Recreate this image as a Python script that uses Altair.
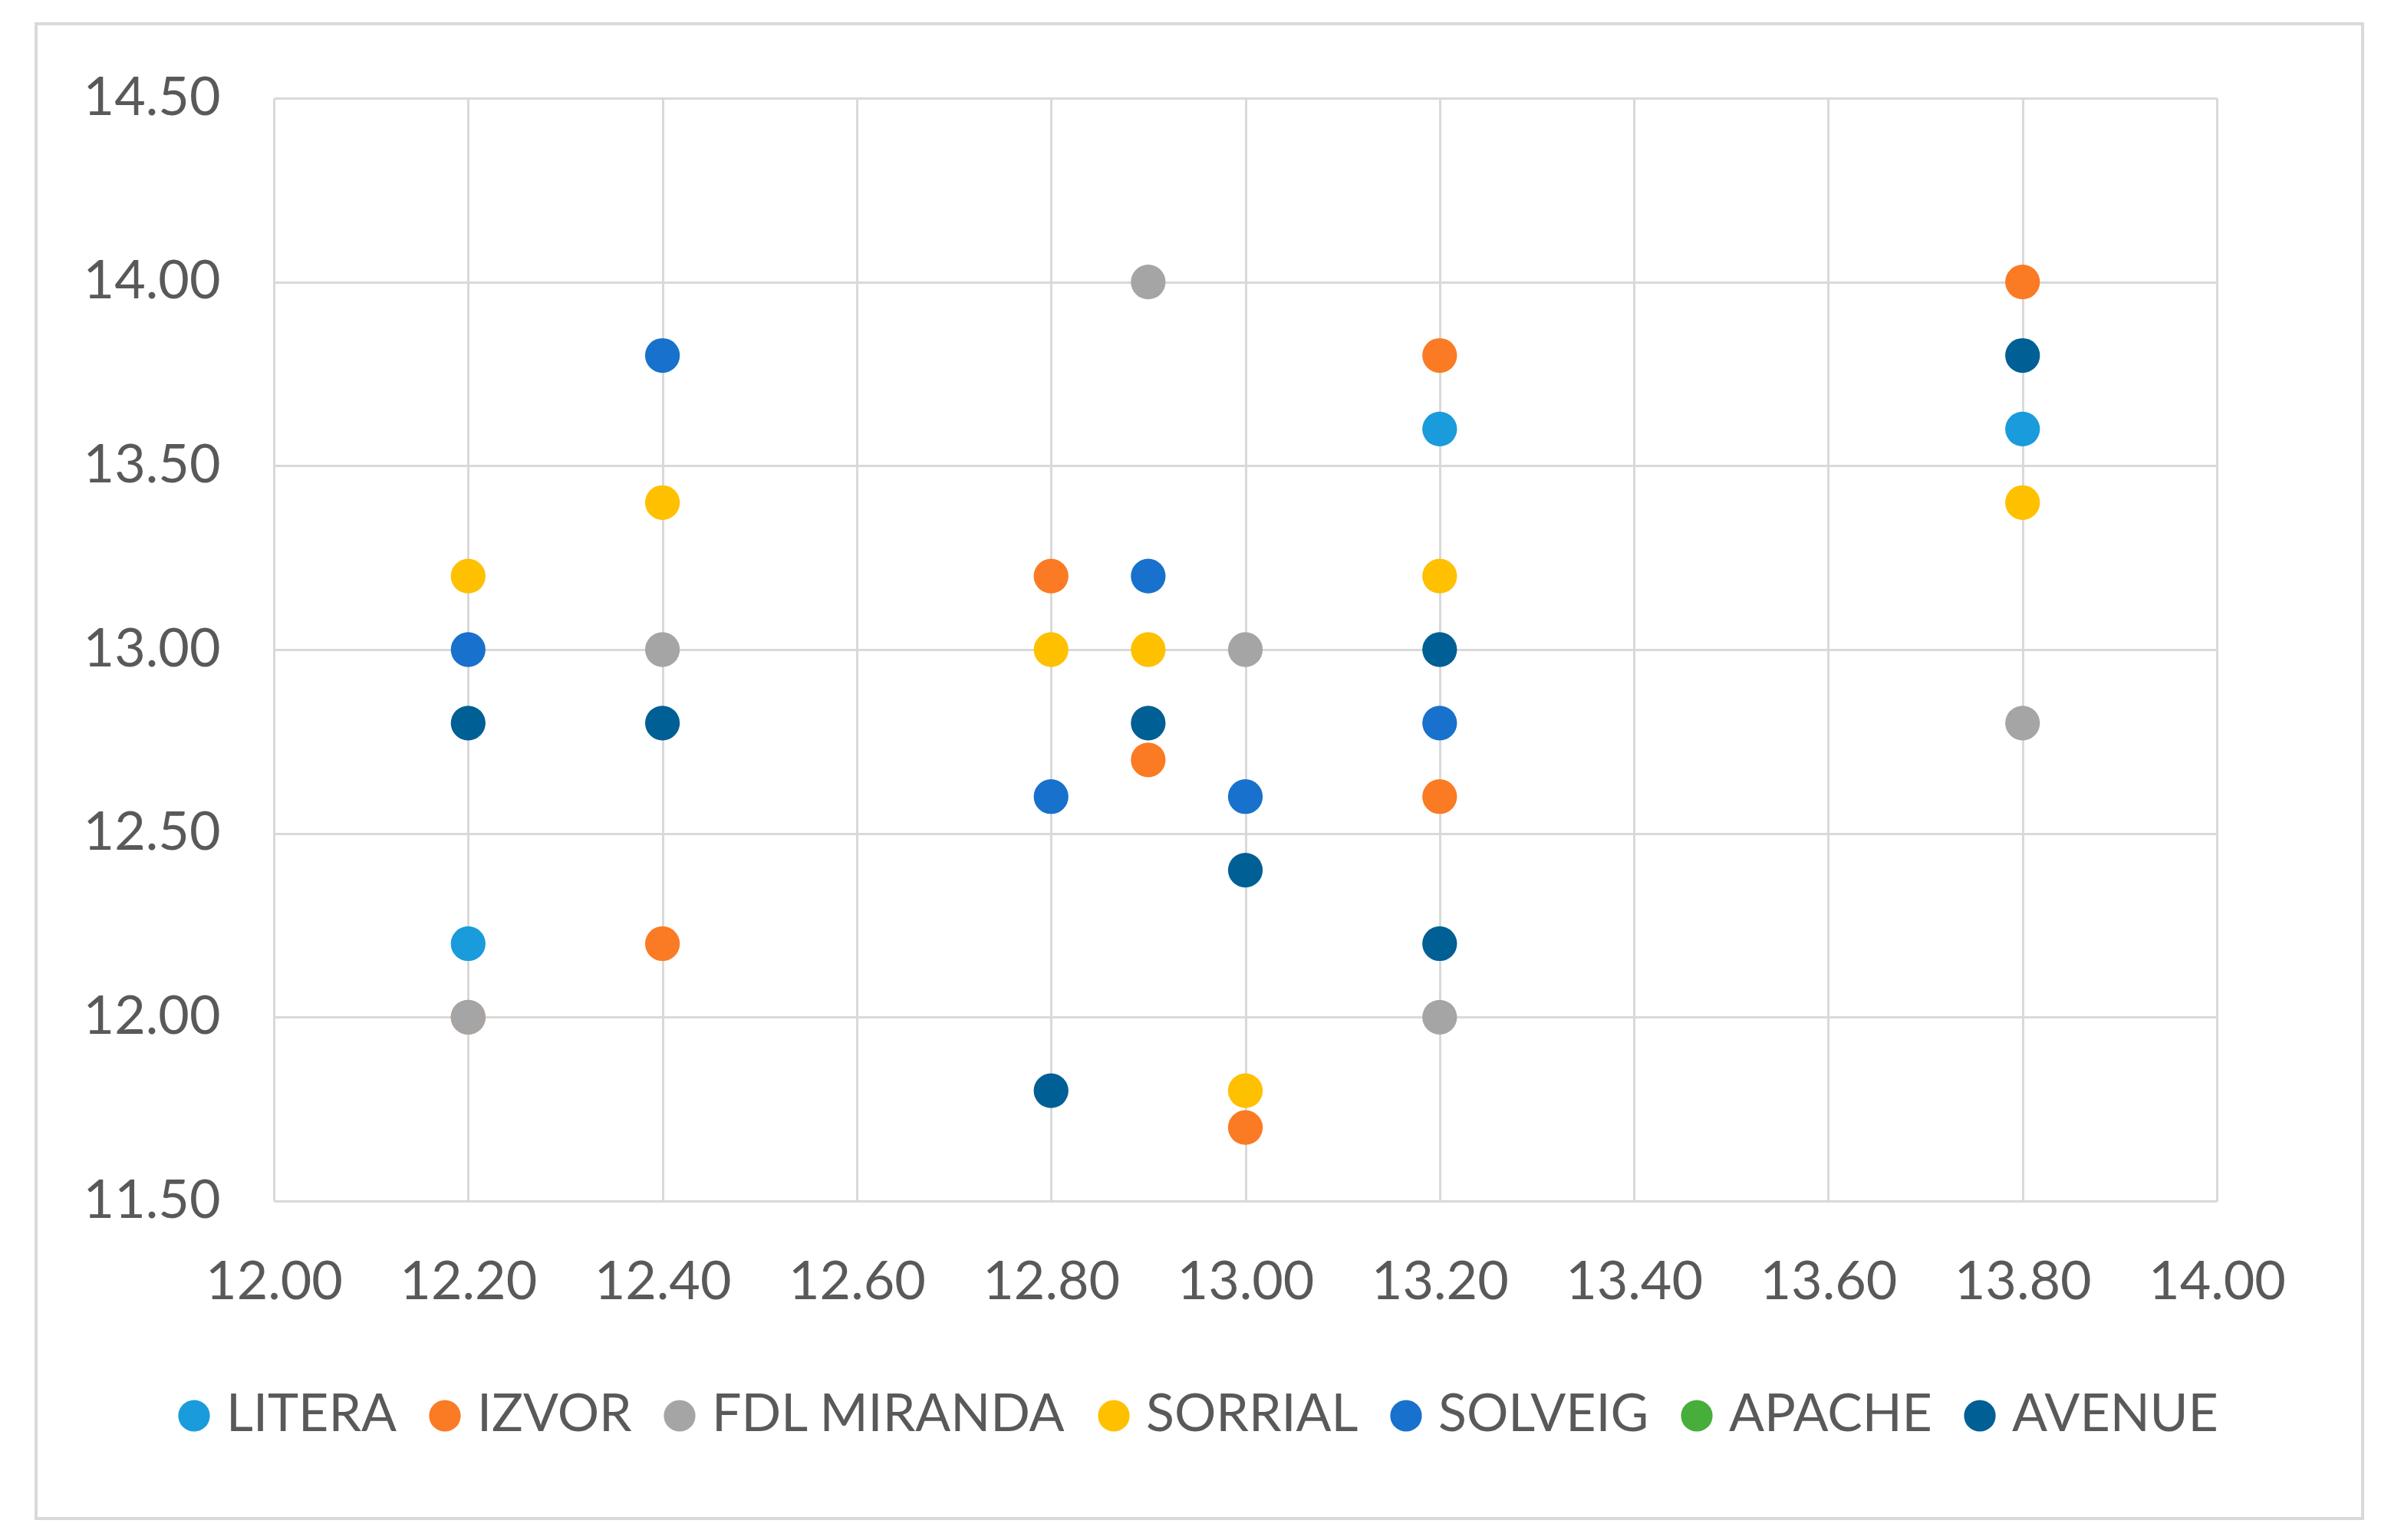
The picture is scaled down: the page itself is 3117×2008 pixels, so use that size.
import altair as alt
import pandas as pd

# ---- data ----
series_names = ["LITERA", "IZVOR", "FDL MIRANDA", "SORRIAL", "SOLVEIG", "APACHE", "AVENUE"]
series_colors = ["#1a9bdb", "#fb7a24", "#a5a5a5", "#ffc000", "#1871cc", "#47ad3b", "#005f95"]

litera_x = [12.2, 13.2, 13.8]
litera_y = [12.2, 13.6, 13.6]

izvor_x = [12.2, 12.4, 12.8, 12.9, 13.0, 13.2, 13.2, 13.8]
izvor_y = [12.0, 12.2, 13.2, 12.7, 11.7, 13.8, 12.6, 14.0]

fdl_x = [12.2, 12.4, 12.9, 13.0, 13.2, 13.8]
fdl_y = [12.0, 13.0, 14.0, 13.0, 12.0, 12.8]

sorrial_x = [12.2, 12.4, 12.8, 12.9, 13.0, 13.2, 13.8]
sorrial_y = [13.2, 13.4, 13.0, 13.0, 11.8, 13.2, 13.4]

solveig_x = [12.2, 12.4, 12.8, 12.9, 13.0, 13.2]
solveig_y = [13.0, 13.8, 12.6, 13.2, 12.6, 12.8]

apache_x = []
apache_y = []

avenue_x = [12.2, 12.4, 12.8, 12.9, 13.0, 13.2, 13.2, 13.8]
avenue_y = [12.8, 12.8, 11.8, 12.8, 12.4, 13.0, 12.2, 13.8]

x_ticks = [12.0, 12.2, 12.4, 12.6, 12.8, 13.0, 13.2, 13.4, 13.6, 13.8, 14.0]
y_ticks = [11.5, 12.0, 12.5, 13.0, 13.5, 14.0, 14.5]

all_x = [litera_x, izvor_x, fdl_x, sorrial_x, solveig_x, apache_x, avenue_x]
all_y = [litera_y, izvor_y, fdl_y, sorrial_y, solveig_y, apache_y, avenue_y]

rows = []
for name, xs, ys in zip(series_names, all_x, all_y):
    for xv, yv in zip(xs, ys):
        rows.append({"series": name, "x": xv, "y": yv})
df = pd.DataFrame(rows)

W, H = 2533, 1438
FONT = "Lato"
TXT = "#595959"
GRID = "#d9d9d9"

points = alt.Chart(df).mark_circle(size=2050, opacity=1).encode(
    x=alt.X("x:Q",
            scale=alt.Scale(domain=[12, 14], nice=False, zero=False),
            axis=alt.Axis(values=x_ticks, format=".2f", title=None, ticks=False, domain=False,
                          grid=True, gridColor=GRID, gridWidth=3,
                          labelFont=FONT, labelFontSize=70, labelColor=TXT, labelPadding=72,
                          labelFlush=False)),
    y=alt.Y("y:Q",
            scale=alt.Scale(domain=[11.5, 14.5], nice=False, zero=False),
            axis=alt.Axis(values=y_ticks, format=".2f", title=None, ticks=False, domain=False,
                          grid=True, gridColor=GRID, gridWidth=3,
                          labelFont=FONT, labelFontSize=70, labelColor=TXT, labelPadding=70,
                          labelFlush=False)),
    color=alt.Color("series:N",
                    scale=alt.Scale(domain=series_names, range=series_colors),
                    title=None,
                    legend=alt.Legend(orient="none", direction="horizontal", columns=7,
                                      legendX=-138, legendY=1684, padding=0,
                                      symbolType="circle", symbolSize=1700, symbolStrokeWidth=0,
                                      symbolOpacity=1,
                                      labelFont=FONT, labelFontSize=68, labelColor=TXT,
                                      labelLimit=2000,
                                      labelOffset=8, columnPadding=28)),
)

border = alt.Chart(pd.DataFrame({"a": [0]})).mark_rect(
    fillOpacity=0, stroke=GRID, strokeWidth=4
).encode(
    x=alt.value(-310), x2=alt.value(2723), y=alt.value(-97), y2=alt.value(1852)
)

chart = alt.layer(border, points).properties(
    width=W, height=H,
    autosize=alt.AutoSizeParams(type="none"),
    padding={"left": 349, "top": 120, "right": 200, "bottom": 430},
    background="white",
).configure_view(strokeWidth=0)

chart.save("out.html", embed_options={"renderer": "svg", "actions": False})
